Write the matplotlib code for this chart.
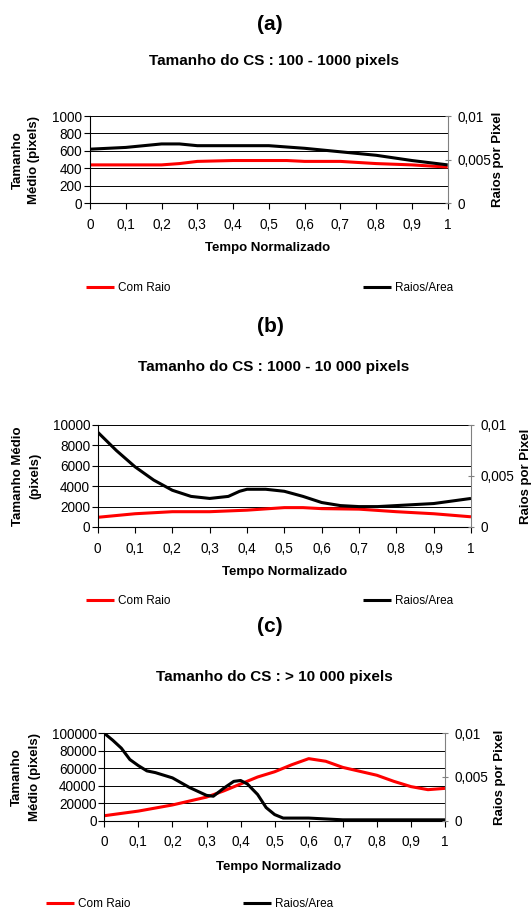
import matplotlib
matplotlib.use("Agg")
import matplotlib.pyplot as plt
from matplotlib.ticker import FuncFormatter

plt.rcParams['font.family'] = ['Liberation Sans', 'DejaVu Sans']

# ----- dados -----
# (a) 100 - 1000 pixels
a_red_x = [0, 0.1, 0.2, 0.25, 0.3, 0.4, 0.5, 0.55, 0.6, 0.7, 0.8, 0.9, 1.0]
a_red_y = [440, 440, 440, 455, 480, 490, 490, 490, 480, 480, 455, 440, 415]
a_blk_x = [0, 0.1, 0.2, 0.25, 0.3, 0.4, 0.5, 0.6, 0.7, 0.8, 0.9, 1.0]
a_blk_y = [0.0062, 0.0064, 0.0068, 0.0068, 0.0066, 0.0066, 0.0066, 0.0063, 0.0059, 0.0055, 0.0049, 0.0044]

# (b) 1000 - 10 000 pixels
b_red_x = [0, 0.1, 0.2, 0.3, 0.4, 0.5, 0.55, 0.6, 0.7, 0.8, 0.9, 1.0]
b_red_y = [950, 1300, 1500, 1500, 1650, 1900, 1900, 1800, 1750, 1500, 1300, 1000]
b_blk_x = [0, 0.05, 0.1, 0.15, 0.2, 0.25, 0.3, 0.35, 0.38, 0.4, 0.45, 0.5, 0.55, 0.6,
           0.65, 0.7, 0.75, 0.8, 0.9, 1.0]
b_blk_y = [0.0093, 0.0075, 0.0059, 0.0046, 0.0036, 0.0030, 0.0028, 0.0030, 0.0035, 0.0037,
           0.0037, 0.0035, 0.0030, 0.0024, 0.0021, 0.0020, 0.0020, 0.0021, 0.0023, 0.0028]

# (c) > 10 000 pixels
c_red_x = [0, 0.1, 0.2, 0.3, 0.35, 0.4, 0.45, 0.5, 0.55, 0.6, 0.65, 0.7, 0.8, 0.85, 0.9, 0.95, 1.0]
c_red_y = [5700, 11000, 18000, 27000, 34000, 42000, 50000, 56000, 64000, 71000, 68000,
           61000, 52000, 45000, 39000, 35500, 37000]
c_blk_x = [0, 0.025, 0.05, 0.075, 0.1, 0.125, 0.15, 0.2, 0.25, 0.3, 0.32, 0.35, 0.38, 0.4,
           0.42, 0.45, 0.475, 0.5, 0.525, 0.6, 0.7, 0.8, 0.9, 1.0]
c_blk_y = [0.0100, 0.0092, 0.0083, 0.0070, 0.0063, 0.0057, 0.0055, 0.0049, 0.0038, 0.0029,
           0.0028, 0.0037, 0.0045, 0.0046, 0.0042, 0.0030, 0.0015, 0.0007, 0.0003, 0.0003,
           0.0001, 0.0001, 0.0001, 0.0001]

x_ticks = [0, 0.1, 0.2, 0.3, 0.4, 0.5, 0.6, 0.7, 0.8, 0.9, 1.0]
right_ticks = [0, 0.005, 0.01]
labels = ["Com Raio", "Raios/Area"]

W, H = 532, 909
fig = plt.figure(figsize=(W / 100, H / 100), dpi=100)


def px(x, y):
    # pixel -> fração da figura
    return x / W, 1 - y / H


def comma(v, pos=None):
    return f"{v:g}".replace('.', ',')


def panel(box, red_x, red_y, blk_x, blk_y, ymax, letter, title, letter_y, title_y,
          ylab, ylab_x, rlab_x, xlab_y, xlab_x, leg_y, leg_red_x, leg_blk_x):
    l, r, t, b = box
    ax = fig.add_axes([l / W, 1 - b / H, (r - l) / W, (b - t) / H])
    ax2 = ax.twinx()

    lr, = ax.plot(red_x, red_y, color='#ff0000', lw=2.2, solid_capstyle='butt')
    lb, = ax2.plot(blk_x, blk_y, color='black', lw=2.2, solid_capstyle='butt')

    ax.set_xlim(0, 1)
    ax.set_ylim(0, ymax)
    ax.set_yticks([ymax * i / 5 for i in range(6)])
    ax.set_xticks(x_ticks)
    ax.xaxis.set_major_formatter(FuncFormatter(comma))
    ax.yaxis.set_major_formatter(FuncFormatter(lambda v, p: f"{int(round(v))}"))
    ax.grid(axis='y', color='black', lw=0.7)
    ax.set_axisbelow(True)

    ax2.set_ylim(0, 0.01)
    ax2.set_yticks(right_ticks)
    ax2.yaxis.set_major_formatter(FuncFormatter(comma))

    for s in ['top', 'right']:
        ax.spines[s].set_visible(False)
    for s in ['top', 'left', 'bottom']:
        ax2.spines[s].set_visible(False)
    ax.spines['left'].set_color('black')
    ax.spines['bottom'].set_color('black')
    ax2.spines['right'].set_color('#808080')

    ax.tick_params(axis='y', direction='out', length=4, width=0.8, pad=1.5, labelsize=9.8)
    ax.tick_params(axis='x', direction='out', length=4, width=0.8, pad=6.5, labelsize=9.8)
    ax2.tick_params(axis='y', direction='inout', length=5, width=0.8, color='#808080',
                    pad=4.5, labelsize=9.8)

    cy = (t + b) / 2
    fig.text(*px(270, letter_y), letter, ha='center', va='center', fontsize=15, weight='bold')
    fig.text(*px(274, title_y), title, ha='center', va='center', fontsize=11, weight='bold')
    for txt, xx in zip(ylab, ylab_x):
        fig.text(*px(xx, cy), txt, ha='center', va='center', rotation=90,
                 fontsize=9.5, weight='bold')
    fig.text(*px(rlab_x, cy), "Raios por Pixel", ha='center', va='center', rotation=90,
             fontsize=9.5, weight='bold')
    fig.text(*px(xlab_x, xlab_y), "Tempo Normalizado", ha='center', va='center',
             fontsize=9.5, weight='bold')

    # ----- legenda -----
    for h, lab, lx in zip([lr, lb], labels, [leg_red_x, leg_blk_x]):
        fig.legend([h], [lab], loc='center left', bbox_to_anchor=px(lx, leg_y),
                   frameon=False, borderpad=0, borderaxespad=0, handlelength=2.4,
                   handletextpad=0.35, fontsize=8.5)


panel((90, 447.7, 116, 203.3), a_red_x, a_red_y, a_blk_x, a_blk_y, 1000,
      "(a)", "Tamanho do CS : 100 - 1000 pixels", 24, 61,
      ["Tamanho", "Médio (pixels)"], [18, 34], 498, 248, 268,
      288, 86, 363)

panel((97.7, 471, 425, 527), b_red_x, b_red_y, b_blk_x, b_blk_y, 10000,
      "(b)", "Tamanho do CS : 1000 - 10 000 pixels", 327, 367,
      ["Tamanho Médio", "(pixels)"], [18.5, 35.5], 526, 572, 285,
      601, 86, 363)

panel((104.3, 445, 733.3, 820.7), c_red_x, c_red_y, c_blk_x, c_blk_y, 100000,
      "(c)", "Tamanho do CS : > 10 000 pixels", 626, 677,
      ["Tamanho", "Médio (pixels)"], [17, 35], 500.5, 867, 279,
      904, 46, 243)

fig.savefig("out.png", dpi=100)
